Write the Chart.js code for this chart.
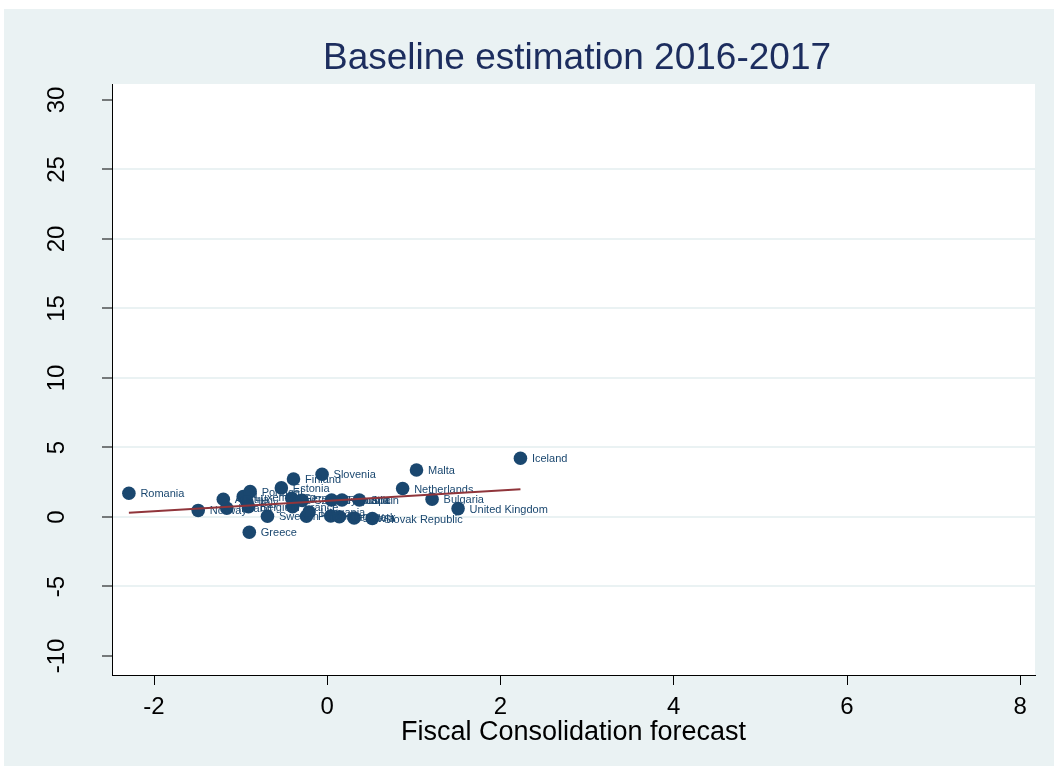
<!DOCTYPE html>
<html>
<head>
<meta charset="utf-8">
<script src="https://cdn.jsdelivr.net/npm/chart.js@4/dist/chart.umd.min.js"></script>
<style>
  html, body { margin: 0; padding: 0; background: #ffffff; }
  #wrap { width: 1054px; height: 769px; }
</style>
</head>
<body>
<div id="wrap"><canvas id="c" width="1054" height="769"></canvas></div>
<script>
// Countries and their values
const countries = [
  'Romania', 'Norway', 'Austria', 'Ireland', 'Luxembourg', 'Portugal', 'Italy',
  'Belgium', 'Greece', 'Sweden', 'Estonia', 'Finland', 'Slovenia', 'Germany',
  'Czech Republic', 'France', 'Poland', 'Lithuania', 'Cyprus', 'Croatia', 'Spain',
  'Hungary', 'Denmark', 'Latvia', 'Slovak Republic', 'Malta', 'Iceland',
  'Netherlands', 'Bulgaria', 'United Kingdom'
];
const fiscalForecast = [
  -2.29, -1.49, -1.20, -1.16, -0.97, -0.89, -0.93,
  -0.91, -0.90, -0.69, -0.53, -0.39, -0.06, -0.41,
  -0.29, -0.40, -0.24, -0.21, 0.05, 0.17, 0.37,
  0.04, 0.14, 0.31, 0.52, 1.03, 2.23,
  0.87, 1.21, 1.51
];
const outcome = [
  1.71, 0.47, 1.27, 0.63, 1.46, 1.82, 1.10,
  0.74, -1.10, 0.05, 2.09, 2.73, 3.07, 1.35,
  1.19, 0.74, 0.05, 0.36, 1.22, 1.22, 1.22,
  0.07, 0.02, -0.07, -0.11, 3.38, 4.22,
  2.05, 1.27, 0.60
];

// Fitted line end points
const fitX = [-2.29, 2.23];
const fitY = [0.31, 1.99];

// Axis ticks
const xTicks = [-2, 0, 2, 4, 6, 8];
const yTicks = [-10, -5, 0, 5, 10, 15, 20, 25, 30];

const titleText = 'Baseline estimation 2016-2017';
const xTitle = 'Fiscal Consolidation forecast';

const navy = '#1a476f';
const panel = '#eaf2f3';
const fontFamily = 'Arial, "Liberation Sans", Helvetica, sans-serif';

const scatterPoints = fiscalForecast.map((x, i) => ({ x: x, y: outcome[i] }));
const fitPoints = fitX.map((x, i) => ({ x: x, y: fitY[i] }));

// Backgrounds: outer panel and white plot region
const backdrop = {
  id: 'backdrop',
  beforeDraw(chart) {
    const { ctx, chartArea: a } = chart;
    ctx.save();
    ctx.fillStyle = '#ffffff';
    ctx.fillRect(0, 0, chart.width, chart.height);
    ctx.fillStyle = panel;
    ctx.fillRect(4, 9, chart.width - 4, 757);
    ctx.fillStyle = '#ffffff';
    ctx.fillRect(a.left, a.top, a.right - a.left, a.bottom - a.top);
    ctx.restore();
  }
};

// Main title
const mainTitle = {
  id: 'mainTitle',
  afterDraw(chart) {
    const ctx = chart.ctx;
    ctx.save();
    ctx.font = '37px ' + fontFamily;
    ctx.fillStyle = '#1c2d5e';
    ctx.textAlign = 'center';
    ctx.textBaseline = 'middle';
    ctx.fillText(titleText, 577, 59);
    ctx.restore();
  }
};

// Country names beside their markers
const pointNames = {
  id: 'pointNames',
  afterDatasetDraw(chart, args) {
    if (args.index !== 0) return;
    const ctx = chart.ctx;
    const xs = chart.scales.x, ys = chart.scales.y;
    ctx.save();
    ctx.font = '11px ' + fontFamily;
    ctx.fillStyle = navy;
    ctx.textAlign = 'left';
    ctx.textBaseline = 'middle';
    countries.forEach((name, i) => {
      const px = xs.getPixelForValue(fiscalForecast[i]);
      const py = ys.getPixelForValue(outcome[i]);
      ctx.fillText(name, px + 11.5, py + 1);
    });
    ctx.restore();
  }
};

new Chart(document.getElementById('c'), {
  type: 'scatter',
  data: {
    datasets: [
      {
        label: 'Countries',
        data: scatterPoints,
        backgroundColor: navy,
        borderColor: navy,
        borderWidth: 0,
        pointRadius: 6.8,
        pointHoverRadius: 6.8,
        order: 1
      },
      {
        type: 'line',
        label: 'Fitted values',
        data: fitPoints,
        borderColor: '#90353b',
        borderWidth: 2,
        pointRadius: 0,
        fill: false,
        tension: 0,
        order: 0
      }
    ]
  },
  options: {
    responsive: false,
    animation: false,
    events: [],
    layout: { padding: { top: 84, right: 19, left: 0, bottom: 0 } },
    plugins: {
      legend: { display: false },
      tooltip: { enabled: false },
      title: { display: false }
    },
    scales: {
      x: {
        type: 'linear',
        min: -2.485,
        max: 8.17,
        afterBuildTicks(scale) { scale.ticks = xTicks.map(v => ({ value: v })); },
        afterFit(scale) { scale.height = 94; },
        border: { display: true, color: '#000000', width: 1 },
        grid: { drawOnChartArea: false, drawTicks: true, tickLength: 10, tickColor: '#000000', tickWidth: 1 },
        ticks: {
          color: '#000000',
          font: { family: fontFamily, size: 24 },
          padding: 8,
          maxRotation: 0,
          minRotation: 0,
          callback: v => String(v)
        },
        title: {
          display: true,
          text: xTitle,
          color: '#000000',
          font: { family: fontFamily, size: 27 },
          padding: { top: 0, bottom: 20 }
        }
      },
      y: {
        type: 'linear',
        min: -11.37,
        max: 31.15,
        afterBuildTicks(scale) { scale.ticks = yTicks.map(v => ({ value: v })); },
        afterFit(scale) { scale.width = 112; },
        border: { display: true, color: '#000000', width: 1 },
        grid: {
          drawOnChartArea: true,
          drawTicks: true,
          tickLength: 10,
          tickColor: '#000000',
          tickWidth: 1,
          lineWidth: 2,
          color: c => (c.tick && (c.tick.value === 30 || c.tick.value === -10)) ? 'rgba(0,0,0,0)' : panel
        },
        ticks: {
          color: '#000000',
          font: { family: fontFamily, size: 24 },
          padding: 27,
          minRotation: 90,
          maxRotation: 90,
          crossAlign: 'center',
          callback: v => String(v)
        }
      }
    }
  },
  plugins: [backdrop, pointNames, mainTitle]
});
</script>
</body>
</html>
